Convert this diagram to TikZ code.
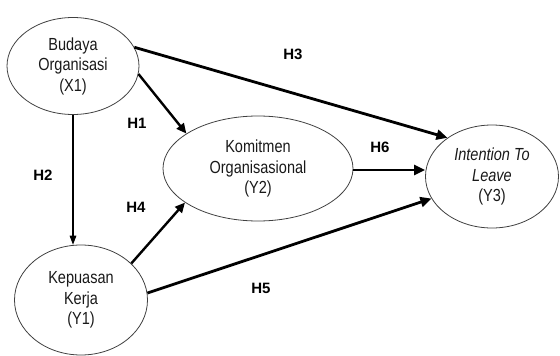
\documentclass[tikz,border=0pt]{standalone}
\usepackage{fontspec}
\setmainfont{Liberation Sans}[FakeStretch=0.83]
\newfontfamily\hlabfont{Liberation Sans}
\usetikzlibrary{shapes.geometric,arrows.meta}
\tikzset{
  var/.style={ellipse, draw=black!75, line width=0.8pt, inner sep=0pt, align=center,
    font=\fontsize{17.5}{20.5}\selectfont, text=black!90},
  rel/.style={line width=2.8pt, -{Triangle[length=11pt,width=10pt]}},
  relmid/.style={line width=2.4pt, -{Triangle[length=10pt,width=9pt]}},
  relthin/.style={line width=1.2pt, -{Triangle[length=9pt,width=6.5pt]}},
  hlab/.style={font=\hlabfont\fontsize{15}{15}\selectfont\bfseries, inner sep=0pt}
}
\begin{document}
\begin{tikzpicture}[x=1pt, y=-1pt]
\useasboundingbox (0,0) rectangle (560,356);
\node[var, minimum width=132pt, minimum height=97pt] (X1) at (73,66) {Budaya\\Organisasi\\(X1)};
\node[var, minimum width=133pt, minimum height=110pt] (Y1) at (81,300) {Kepuasan\\Kerja\\(Y1)};
\node[var, minimum width=190pt, minimum height=105pt] (Y2) at (258,168.5) {Komitmen\\Organisasional\\(Y2)};
\node[var, minimum width=133pt, minimum height=103pt] (Y3) at (492,176.5) {\itshape Intention To\\\itshape Leave\\(Y3)};

\draw[rel] (X1.17) -- (Y3.139);
\draw[relmid] (X1.-7) -- (Y2.154);
\draw[relthin] (X1.south) -- (X1.south |- Y1.95);
\draw[relmid] (Y1.36) -- (Y2.205);
\draw[rel] (Y2.east |- 0,170) -- (Y3.west |- 0,170);
\draw[rel] (Y1.6) -- (Y3.200);

\node[hlab] (h1) at (137,123) {H1};
\node[hlab] (h2) at (43,175) {H2};
\node[hlab] (h3) at (293,54) {H3};
\node[hlab] (h4) at (136,207) {H4};
\node[hlab] (h5) at (261,288) {H5};
\node[hlab] (h6) at (380,147) {H6};
\end{tikzpicture}
\end{document}
